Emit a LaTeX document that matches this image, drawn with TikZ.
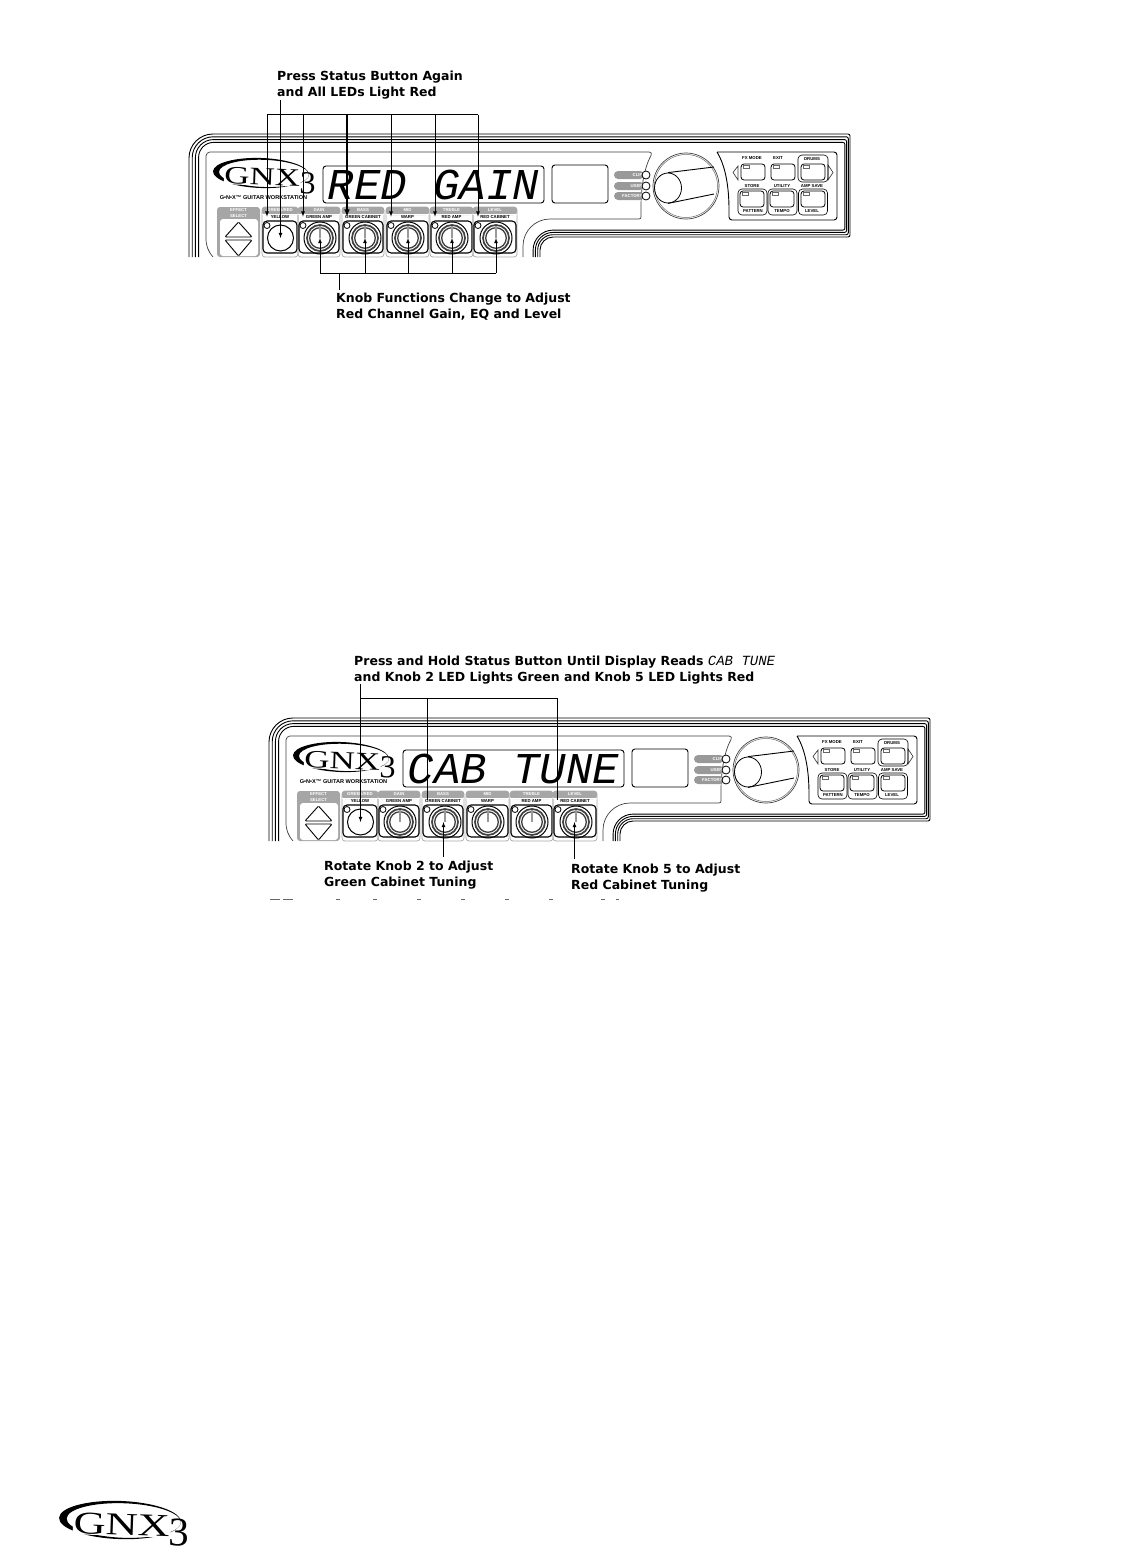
\documentclass[tikz,border=0pt]{standalone}
\usepackage{fontspec}
\usepackage{amsmath,amssymb}
\setmainfont{Liberation Sans}
\newfontfamily\headfont{DejaVu Sans}
\newfontfamily\lcdfont{Liberation Mono}
\newfontfamily\logofont[FakeStretch=1.4]{Liberation Serif}
\newfontfamily\threefont{Liberation Serif}
\usetikzlibrary{positioning,shapes,arrows}

% swoosh and letters of the logo
\newcommand{\gnxlogo}[4]{
\begin{scope}[shift={(#2,#3)},scale=#4,transform shape,rotate=-2]
  \fill[even odd rule] (0,0) ellipse [x radius=48,y radius=15] (3,0.3) ellipse [x radius=45,y radius=13.6];
  \node[fill=white,inner sep=0.5pt,font=\logofont\fontsize{25}{25}\selectfont] (#1gnx) at (1.5,3.5) {GNX};
  \node[inner sep=0pt,font=\threefont\fontsize{32}{32}\selectfont] (#1three) at (47,8.5) {3};
\end{scope}
}

% one front panel, drawn at the coordinates of the upper one
\newcommand{\gnxpanel}[4]{
\begin{scope}[shift={(#2,#3)}]
  % outer frame
  \foreach \i in {0,1,2,3}{
    \pgfmathsetmacro{\rr}{24-3*\i}
    \pgfmathsetmacro{\rb}{20-2.3*(3-\i)}
    \draw[frameline] (189+3.2*\i,257) [rounded corners=\rr pt] -- (189+3.2*\i,134+2.8*\i)
      [rounded corners=2pt] -- (850-1.7*\i,134+2.8*\i) -- (850-1.7*\i,237-2.3*\i)
      [rounded corners=\rb pt] -- (540-2.3*\i,237-2.3*\i) [sharp corners] -- (540-2.3*\i,257);
  }
  % inner border
  \draw[thinline] (213,257) .. controls (208,251) and (206,246) .. (206,238) [rounded corners=4pt] -- (206,152) -- (653,152)
    [sharp corners] .. controls (644,168) and (641,188) .. (641,207) [rounded corners=2pt] -- (641,219) [rounded corners=27pt] -- (523,219) [sharp corners] -- (523,257);
  \gnxlogo{#1}{261}{173}{1}
  \node[font=\fontsize{5.6}{6}\selectfont\bfseries] (#1sub) at (263.5,198) {G\textbullet N\textbullet X\texttrademark{} GUITAR WORKSTATION};
  % displays
  \node[lcd] (#1lcd) at (433.5,184.5) {#4};
  \node[lcdbox,minimum width=56pt] (#1lcdb) at (580,184) {};
  % status lights
  \foreach \y/\txt in {175/CLIP,186/USER,196/FACTORY}{
    \node[pill] (#1p\txt) at (629,\y) {\txt};
    \node[lamp,minimum size=8pt] (#1q\txt) at (646,\y) {};
  }
  % wheel
  \draw[thinline] (686,186) circle [radius=33];
  \draw[black!60,line width=0.5pt] (686,186) circle [radius=31.5];
  \node[draw,ellipse,thick,minimum width=27pt,minimum height=30pt,inner sep=0pt] (#1hub) at (668,188) {};
  \draw[frameline] (#1hub.north) -- (714,167);
  \draw[frameline] (#1hub.south) -- (714,194);
  % right hand block
  \draw[frameline] (717,152) [rounded corners=3pt] -- (837,152) -- (837,220) -- (729,220) [sharp corners] -- (729,210) .. controls (729,185) and (725,165) .. (717,152);
  \draw[thinline] (738,166) -- (733,172.5) -- (738,180) -- cycle;
  \draw[thinline] (828,165) -- (833,172.5) -- (828,180) -- cycle;
  \foreach \n/\cx/\cy/\txt in {fx/753/172/FX MODE,ex/783/172/,dr/813/172/,st/752/199/,ut/782/199/,am/813/199/}{
    \node[softkey] (#1\n) at (\cx,\cy) {};
    \draw[black!60,line width=0.5pt] (\cx-10,\cy-7) rectangle (\cx-4,\cy-4);
  }
  \foreach \cx/\cy/\wid/\hgt in {813/168.5/30/27,752.5/202/29/26,782.5/202/29/26,813/202/29/26}{
    \node[bezel,minimum width=\wid pt,minimum height=\hgt pt] at (\cx,\cy) {};
  }
  \foreach \cx/\cy/\txt in {752/158/FX MODE,778/158/EXIT,812/159/DRUMS,752/186/STORE,782/186/UTILITY,812/186/AMP SAVE,753/211.5/PATTERN,782/211.5/TEMPO,812/211.5/LEVEL}{
    \node[keytext,fill=white,inner sep=0.4pt] at (\cx,\cy) {\txt};
  }
  % effect select
  \fill[tabgray,rounded corners=3pt] (217,207) rectangle (260,257);
  \fill[white,rounded corners=3pt] (220,219) rectangle (258,256);
  \node[tabtext,align=center,font=\fontsize{4.3}{5.5}\selectfont\bfseries] (#1eff) at (238.5,213) {EFFECT\\SELECT};
  \draw[frameline,rounded corners=1pt] (238.5,222) -- (252,237) -- (225,237) -- cycle;
  \draw[frameline,rounded corners=1pt] (238.5,256) -- (252,240) -- (225,240) -- cycle;
  % row of buttons
  \foreach \i/\cx/\wid/\top/\bot in {0/280/34/{GREEN/RED}/YELLOW,1/319/40/GAIN/GREEN AMP,2/363/40/BASS/GREEN CABINET,3/407.5/41/MID/WARP,4/451.5/41/TREBLE/RED AMP,5/495/42/LEVEL/RED CABINET}{
    \draw[tabgray,rounded corners=3pt,line width=0.7pt] (\cx-\wid/2-1,207) rectangle (\cx+\wid/2+1,257);
    \fill[tabgray,rounded corners=3pt] (\cx-\wid/2-1,207) rectangle (\cx+\wid/2+1,215);
    \fill[white] (\cx-\wid/2-1,213.5) rectangle (\cx+\wid/2+1,215);
    \node[tabtext] (#1t\i) at (\cx,210) {\top};
    \node[keytext] (#1u\i) at (\cx,217) {\bot};
    \node[padkey,minimum width=\wid pt] (#1b\i) at (\cx,237) {};
    \node[lamp,minimum size=6pt] (#1l\i) at (\cx-\wid/2+4,225.5) {};
  }
  \node[draw,circle,line width=1pt,minimum size=26pt,inner sep=0pt] (#1k0) at (280.5,238) {};
  \foreach \i/\cx in {1/320,2/365,3/408,4/452,5/496}{
    \node[knob] (#1k\i) at (\cx,238) {};
    \draw[black!75,line width=1.7pt] (\cx,238) circle [radius=13];
    \draw[black!75,line width=1.3pt] (\cx,238) circle [radius=10.3];
    \draw[black!40,line width=1.2pt] (\cx,226) -- (\cx,238);
  }
\end{scope}
}

\begin{document}
\begin{tikzpicture}[
  x=1pt,y=-1pt,
  frameline/.style={line width=0.9pt},
  thinline/.style={line width=0.7pt,black!75},
  leader/.style={line width=0.8pt},
  tabgray/.style={color=black!35},
  heading/.style={align=left,anchor=north west,inner sep=0pt,font=\headfont\fontsize{12.5}{16}\bfseries\selectfont},
  lcd/.style={draw,line width=0.9pt,rounded corners=3pt,minimum width=221pt,minimum height=37pt,inner sep=0pt,font=\lcdfont\fontsize{44}{44}\itshape\selectfont},
  lcdbox/.style={draw,line width=0.9pt,rounded corners=3pt,minimum height=38pt,inner sep=0pt},
  pill/.style={fill=black!40,text=white,rounded corners=4pt,minimum height=8pt,text width=27pt,align=right,inner sep=1.5pt,font=\fontsize{4.3}{5}\selectfont\bfseries},
  lamp/.style={draw,circle,fill=white,line width=0.8pt,inner sep=0pt},
  softkey/.style={draw,line width=0.8pt,rounded corners=3pt,minimum width=24pt,minimum height=16pt,inner sep=0pt},
  bezel/.style={draw,line width=0.6pt,rounded corners=4pt,inner sep=0pt},
  keytext/.style={inner sep=0pt,font=\fontsize{4.3}{5}\selectfont\bfseries},
  tabtext/.style={inner sep=0pt,text=white,font=\fontsize{4.3}{5}\selectfont\bfseries},
  padkey/.style={draw,line width=1.1pt,rounded corners=4pt,minimum height=32pt,inner sep=0pt},
  knob/.style={draw,circle,line width=1pt,minimum size=32pt,inner sep=0pt}
]
\useasboundingbox (0,0) rectangle (1129,1555);

\gnxpanel{a}{0}{0}{RED GAIN}
\gnxpanel{b}{80}{584}{CAB TUNE}
\gnxlogo{c}{120}{1520}{1.27}

% upper panel
\node[heading] (press) at (277,71) {Press Status Button Again\\and All LEDs Light Red};
\node[heading] (knobs) at (336,292.5) {Knob Functions Change to Adjust\\Red Channel Gain, EQ and Level};
\coordinate (busa) at (281,114.5);
\coordinate (busb) at (339,273);
\draw[leader,-latex] (press.south -| ak0) -- (ak0.center);
\draw[leader] (al0 |- busa) -- (al5 |- busa);
\foreach \i in {0,1,3,4,5}{
  \draw[leader,-latex,shorten >=5.5pt] (al\i |- busa) -- (al\i);
}
\draw[line width=1.5pt,-latex,shorten >=5.5pt] (al2 |- busa) -- (al2);
\draw[leader] (ak1 |- busb) -- (ak5 |- busb);
\foreach \i in {1,2,3,4,5}{
  \draw[leader,-latex] (ak\i |- busb) -- (ak\i.center);
}
\draw[leader,shorten <=3pt] (knobs.north -| busb) -- (busb);

% lower panel
\node[heading] (hold) at (354,655.5) {Press and Hold Status Button Until Display Reads {\lcdfont\mdseries\itshape\fontsize{14}{16}\selectfont CAB TUNE}\\and Knob 2 LED Lights Green and Knob 5 LED Lights Red};
\node[heading] (knobtwo) at (324,860.5) {Rotate Knob 2 to Adjust\\Green Cabinet Tuning};
\node[heading] (knobfive) at (571,863.5) {Rotate Knob 5 to Adjust\\Red Cabinet Tuning};
\coordinate (busc) at (358.7,698);
\coordinate (busd) at (557,698);
\draw[leader,-latex] (hold.south -| bk0) -- (bk0.center);
\draw[leader] (bk0 |- busc) -- (busd);
\draw[leader,shorten >=6.5pt] (bl2 |- busc) -- (bl2);
\draw[leader] (busd) -- (busd |- 0,800);
\draw[leader,-latex,shorten <=4pt] ([xshift=-1.5pt]knobtwo.north -| bk2) -- ([xshift=-1.5pt]bk2.center);
\draw[leader,-latex,shorten <=5pt] ([xshift=-1.5pt]knobfive.north -| bk5) -- ([xshift=-1.5pt]bk5.center);

% cut off marks under the lower panel
\foreach \xa/\xb in {270/280,283/293,336/340,373/377,417/421,461/465,505/509,549/553,601/605,616/619}{
  \draw[black!60,line width=0.7pt] (\xa,899) -- (\xb,899);
}
\end{tikzpicture}
\end{document}
